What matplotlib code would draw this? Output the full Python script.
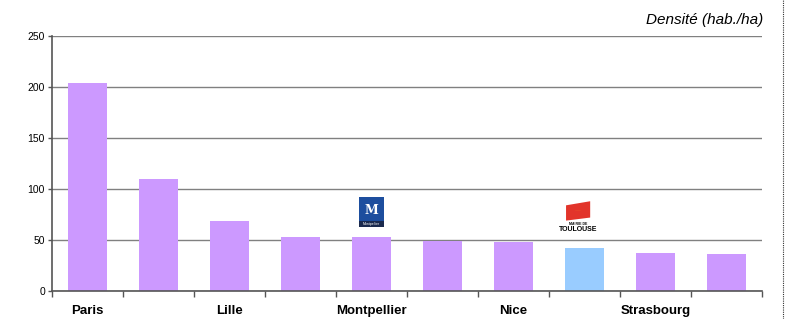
import matplotlib

matplotlib.use("Agg")

import matplotlib.pyplot as plt
from matplotlib.lines import Line2D
from matplotlib.patches import Polygon, Rectangle, Circle

# values
tick_labels = ["Paris", "", "Lille", "", "Montpellier", "", "Nice", "", "Strasbourg", ""]
density = [204, 110, 69, 53, 53, 49, 48, 42, 37, 36]
highlight = 7  # Toulouse bar in blue

purple = "#CC99FF"
blue = "#99CCFF"
grid_col = "#808080"

plt.rcParams["font.family"] = ["Liberation Sans", "DejaVu Sans"]

fig = plt.figure(figsize=(7.85, 3.19), dpi=100)
ax = fig.add_axes([52 / 785, 28 / 319, 710 / 785, 255 / 319])

x = list(range(len(density)))
colors = [blue if i == highlight else purple for i in x]
ax.bar(x, density, width=0.56, color=colors, zorder=2)

ax.set_xlim(-0.5, len(density) - 0.5)
ax.set_ylim(0, 250)
ax.set_yticks([0, 50, 100, 150, 200, 250])
ax.yaxis.grid(True, color=grid_col, linewidth=1.0, zorder=0)
ax.set_axisbelow(True)

ax.set_xticks(x)
ax.set_xticklabels(tick_labels, fontsize=9.5, fontweight="bold")
ax.set_xticks([i - 0.5 for i in range(len(density) + 1)], minor=True)
ax.tick_params(axis="x", which="major", length=0, pad=10)
ax.tick_params(axis="x", which="minor", length=4, width=1, color="#555555", direction="out")
ax.tick_params(axis="y", length=3, width=1, color="#555555", labelsize=7.5, pad=2)

for side in ["top", "right"]:
    ax.spines[side].set_visible(False)
for side in ["left", "bottom"]:
    ax.spines[side].set_color("#555555")
    ax.spines[side].set_linewidth(1.2)

fig.text(763 / 785, 1 - 20 / 319, "Densité (hab./ha)", ha="right", va="center",
         fontsize=11, style="italic")

# Montpellier logo above bar 5
ax.add_patch(Rectangle((3.83, 63), 0.35, 29, facecolor="#1d4e9e", edgecolor="none", zorder=3))
ax.add_patch(Rectangle((3.83, 63), 0.35, 6, facecolor="#1b2a4e", edgecolor="none", zorder=4))
ax.text(4.005, 79, "M", color="white", fontsize=9, fontweight="bold", family="DejaVu Serif",
        ha="center", va="center", zorder=5)
ax.text(4.005, 66, "Montpellier", color="white", fontsize=2.5, ha="center", va="center", zorder=5)

# Toulouse logo above bar 8
flag = Polygon([(6.74, 69), (7.08, 72), (7.08, 88), (6.74, 84)], closed=True,
               facecolor="#e2342a", edgecolor="none", zorder=3)
ax.add_patch(flag)
ax.add_patch(Circle((6.91, 78.5), 0.05, facecolor="#f5b323", edgecolor="none", zorder=4))
ax.text(6.91, 65.5, "MAIRIE DE", fontsize=2.5, fontweight="bold", ha="center", va="center", zorder=5)
ax.text(6.91, 60.5, "TOULOUSE", fontsize=5, fontweight="bold", ha="center", va="center", zorder=5)

# dotted frame on the right edge
fig.add_artist(Line2D([783 / 785, 783 / 785], [0, 1], transform=fig.transFigure,
                      color="#333333", linewidth=0.8, linestyle=(0, (1, 1))))

fig.savefig("out.png", dpi=100)
